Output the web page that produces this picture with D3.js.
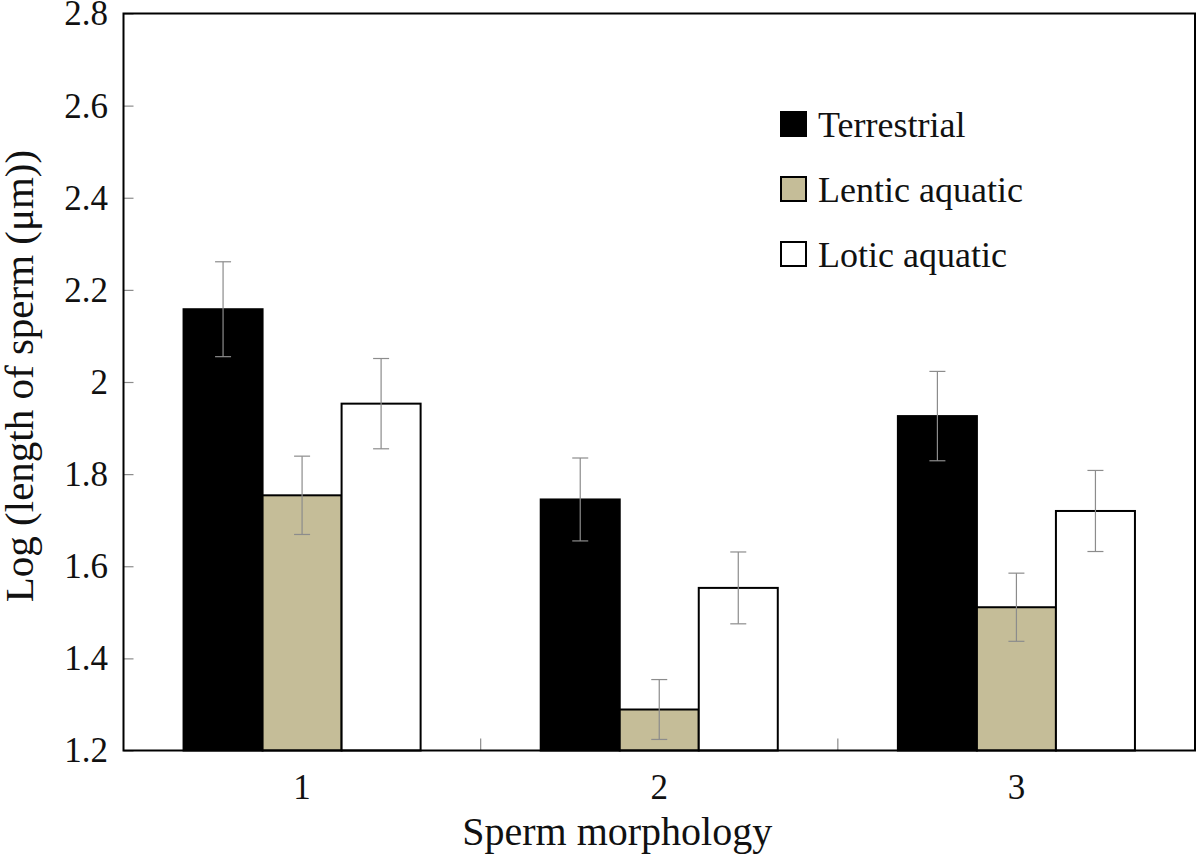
<!DOCTYPE html>
<html>
<head>
<meta charset="utf-8">
<script src="https://cdn.jsdelivr.net/npm/d3@7"></script>
<style>
  body { margin: 0; background: #fff; }
  svg { display: block; font-family: "Liberation Serif", "DejaVu Serif", serif; }
</style>
</head>
<body>
<svg width="1200" height="858"></svg>
<script>
const categories = ['1', '2', '3'];
const seriesNames = ['Terrestrial', 'Lentic aquatic', 'Lotic aquatic'];
const terrestrial = [2.158, 1.745, 1.926];
const lentic = [1.754, 1.289, 1.511];
const lotic = [1.953, 1.553, 1.720];
const terrestrialErr = [0.103, 0.090, 0.097];
const lenticErr = [0.085, 0.065, 0.074];
const loticErr = [0.098, 0.078, 0.088];
const yTicks = [1.2, 1.4, 1.6, 1.8, 2, 2.2, 2.4, 2.6, 2.8];

const fills = ['#000000', '#c5bd98', '#ffffff'];
const seriesValues = [terrestrial, lentic, lotic];
const seriesErrs = [terrestrialErr, lenticErr, loticErr];

const plotLeft = 123.5, plotRight = 1195, plotTop = 13.5, plotBottom = 750.5;

const svg = d3.select('svg');

const x = d3.scaleBand().domain(categories).range([plotLeft, plotRight]).padding(0);
const xInner = d3.scaleBand().domain(seriesNames).range([0, x.bandwidth()])
  .paddingInner(0).paddingOuter(0.76);
const y = d3.scaleLinear().domain([1.2, 2.8]).range([plotBottom, plotTop]);

const rows = [];
categories.forEach((c, i) => {
  seriesNames.forEach((s, j) => {
    rows.push({cat: c, series: s, idx: j, value: seriesValues[j][i], err: seriesErrs[j][i]});
  });
});

// bars
svg.append('g').selectAll('rect').data(rows).enter().append('rect')
  .attr('x', d => x(d.cat) + xInner(d.series))
  .attr('y', d => y(d.value))
  .attr('width', xInner.bandwidth())
  .attr('height', d => y(1.2) - y(d.value))
  .attr('fill', d => fills[d.idx])
  .attr('stroke', '#000')
  .attr('stroke-width', 2);

// error bars
const eb = svg.append('g').attr('stroke', '#8c8c8c').attr('stroke-width', 1.2);
rows.forEach(d => {
  const cx = x(d.cat) + xInner(d.series) + xInner.bandwidth() / 2;
  eb.append('line').attr('x1', cx).attr('x2', cx).attr('y1', y(d.value + d.err)).attr('y2', y(d.value - d.err));
  eb.append('line').attr('x1', cx - 8).attr('x2', cx + 8).attr('y1', y(d.value + d.err)).attr('y2', y(d.value + d.err));
  eb.append('line').attr('x1', cx - 8).attr('x2', cx + 8).attr('y1', y(d.value - d.err)).attr('y2', y(d.value - d.err));
});

// y axis (ticks inside)
const yAxis = d3.axisRight(y).tickValues(yTicks).tickSize(10).tickFormat('');
const gy = svg.append('g').attr('transform', `translate(${plotLeft},0)`).call(yAxis);
gy.select('.domain').remove();
gy.selectAll('.tick line').attr('stroke', '#8c8c8c').attr('stroke-width', 1.2);

svg.append('g').selectAll('text').data(yTicks).enter().append('text')
  .attr('x', 108).attr('y', d => y(d)).attr('dy', '0.34em')
  .attr('text-anchor', 'end').attr('font-size', 35).attr('fill', '#111')
  .text(d => d3.format('')(d));

// x axis: boundary ticks pointing up
const boundaries = categories.slice(1).map(c => x(c));
svg.append('g').selectAll('line').data(boundaries).enter().append('line')
  .attr('x1', d => d).attr('x2', d => d).attr('y1', plotBottom).attr('y2', plotBottom - 12)
  .attr('stroke', '#8c8c8c').attr('stroke-width', 1.2);

svg.append('g').selectAll('text').data(categories).enter().append('text')
  .attr('x', d => x(d) + x.bandwidth() / 2).attr('y', 799)
  .attr('text-anchor', 'middle').attr('font-size', 35).attr('fill', '#111')
  .text(d => d);

// frame
svg.append('rect').attr('x', plotLeft).attr('y', plotTop)
  .attr('width', plotRight - plotLeft).attr('height', plotBottom - plotTop)
  .attr('fill', 'none').attr('stroke', '#000').attr('stroke-width', 2);

// axis titles
svg.append('text').attr('x', (plotLeft + plotRight) / 2 - 42).attr('y', 845)
  .attr('text-anchor', 'middle').attr('font-size', 40).attr('fill', '#111')
  .text('Sperm morphology');
svg.append('text').attr('transform', 'translate(33,376) rotate(-90)')
  .attr('text-anchor', 'middle').attr('font-size', 41).attr('fill', '#111')
  .text('Log (length of sperm (μm))');

// legend
const legend = svg.append('g').attr('transform', 'translate(781,112)');
seriesNames.forEach((s, i) => {
  const g = legend.append('g').attr('transform', `translate(0,${i * 65})`);
  g.append('rect').attr('x', 0).attr('y', 0).attr('width', 25).attr('height', 24)
    .attr('fill', fills[i]).attr('stroke', '#000').attr('stroke-width', 2);
  g.append('text').attr('x', 37).attr('y', 25).attr('font-size', 36).attr('fill', '#111').text(s);
});
</script>
</body>
</html>
